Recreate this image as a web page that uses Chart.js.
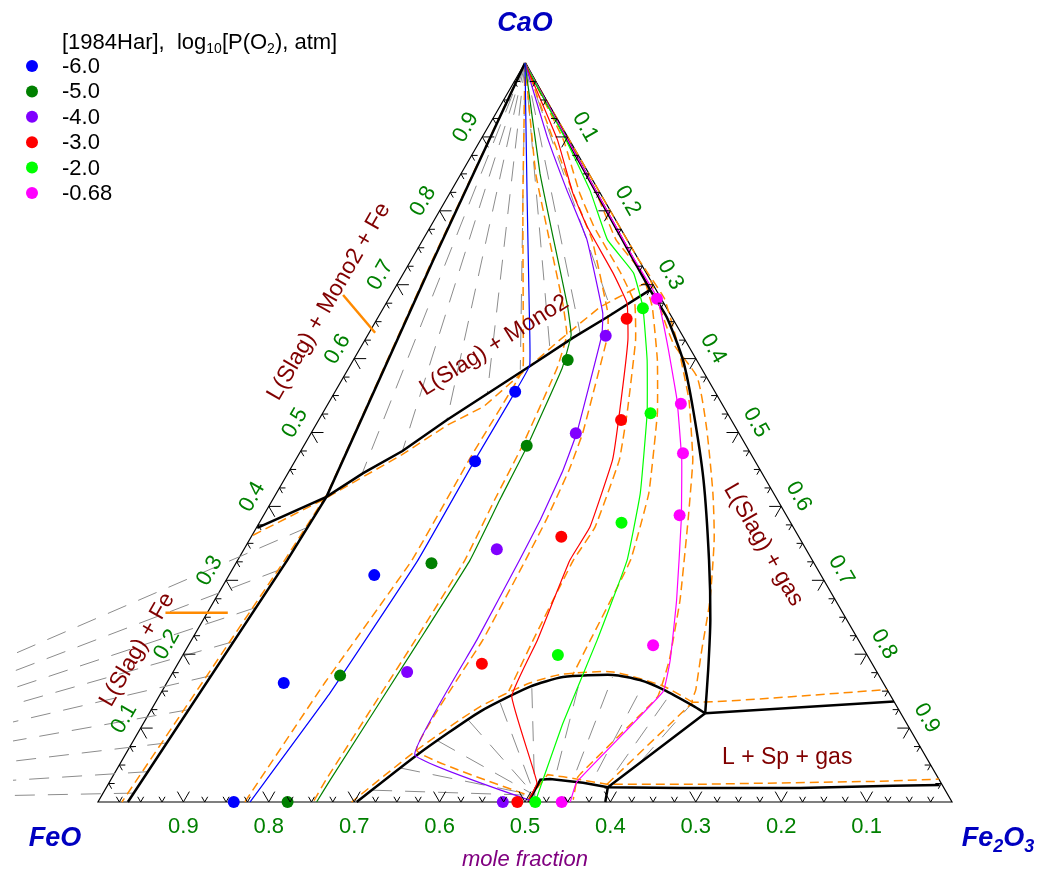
<!DOCTYPE html>
<html>
<head>
<meta charset="utf-8">
<script src="https://cdn.jsdelivr.net/npm/chart.js@4.4.1/dist/chart.umd.min.js"></script>
<style>
  html, body { margin: 0; padding: 0; background: #ffffff; }
  canvas { display: block; }
</style>
</head>
<body>
<canvas id="phase" width="1037" height="871"></canvas>
<script>
// CaO – FeO – Fe2O3 isothermal section.
// Every composition is written as [x(CaO), x(Fe2O3)]; x(FeO) = 1 - x(CaO) - x(Fe2O3).

// ---- experimental points, [1984Har], by log10 p(O2)
const pO2Labels = ['-6.0', '-5.0', '-4.0', '-3.0', '-2.0', '-0.68'];
const pO2Colors = ['#0000ff', '#008000', '#8000ff', '#ff0000', '#00ff00', '#ff00ff'];
const exp_m6   = [[0.555, 0.211], [0.461, 0.211], [0.307, 0.170], [0.161, 0.137], [0.0, 0.159]];
const exp_m5   = [[0.598, 0.251], [0.482, 0.261], [0.323, 0.229], [0.171, 0.198], [0.0, 0.222]];
const exp_m4   = [[0.631, 0.279], [0.499, 0.310], [0.342, 0.296], [0.176, 0.274], [0.0, 0.474]];
const exp_m3   = [[0.654, 0.292], [0.517, 0.354], [0.359, 0.363], [0.187, 0.356], [0.0, 0.491]];
const exp_m2   = [[0.668, 0.304], [0.526, 0.384], [0.378, 0.424], [0.199, 0.439], [0.0, 0.512]];
const exp_m068 = [[0.681, 0.314], [0.539, 0.413], [0.472, 0.449], [0.388, 0.487], [0.212, 0.544], [0.0, 0.543]];

// ---- calculated isobars (solid)
const iso_m6 = [[1, 0], [0.815, 0.095], [0.666, 0.172], [0.591, 0.210], [0.555, 0.211], [0.463, 0.210], [0.327, 0.211], [0.148, 0.198], [0, 0.178]];
const iso_m5 = [[1, 0], [0.851, 0.092], [0.761, 0.153], [0.673, 0.213], [0.632, 0.238], [0.587, 0.250], [0.480, 0.262], [0.409, 0.266], [0.327, 0.272], [0.219, 0.267], [0.030, 0.257], [0, 0.256]];
const iso_m4 = [[1, 0], [0.900, 0.076], [0.828, 0.135], [0.761, 0.192], [0.662, 0.260], [0.632, 0.274], [0.554, 0.296], [0.499, 0.311], [0.449, 0.320], [0.382, 0.327], [0.327, 0.330], [0.219, 0.334], [0.064, 0.339], [0.002, 0.505]];
const iso_m3 = [[1, 0], [0.896, 0.090], [0.824, 0.144], [0.778, 0.184], [0.716, 0.245], [0.675, 0.282], [0.625, 0.308], [0.530, 0.346], [0.463, 0.371], [0.372, 0.390], [0.327, 0.389], [0.219, 0.405], [0.143, 0.413], [0.026, 0.501], [0.001, 0.503]];
const iso_m2 = [[1, 0], [0.896, 0.100], [0.828, 0.162], [0.761, 0.216], [0.716, 0.269], [0.670, 0.303], [0.598, 0.344], [0.526, 0.380], [0.418, 0.426], [0.327, 0.456], [0.219, 0.475], [0.107, 0.491], [0.030, 0.506], [0, 0.512]];
const iso_m068 = [[1, 0], [0.737, 0.258], [0.682, 0.314], [0.621, 0.356], [0.544, 0.406], [0.463, 0.452], [0.382, 0.492], [0.273, 0.541], [0.192, 0.574], [0.149, 0.587], [0.027, 0.547], [0, 0.553]];

// ---- second assessment (orange, dashed)
const alt_m6 = [[1, 0], [0.815, 0.090], [0.632, 0.182], [0.585, 0.205], [0.544, 0.205], [0.466, 0.203], [0.327, 0.204], [0.162, 0.185], [0, 0.172]];
const alt_m5 = [[1, 0], [0.851, 0.087], [0.761, 0.148], [0.673, 0.208], [0.632, 0.233], [0.587, 0.244], [0.480, 0.256], [0.409, 0.260], [0.327, 0.266], [0.219, 0.262], [0.030, 0.252], [0, 0.252]];
const alt_m4 = [[1, 0], [0.900, 0.082], [0.828, 0.141], [0.761, 0.198], [0.662, 0.266], [0.632, 0.281], [0.554, 0.303], [0.499, 0.318], [0.449, 0.327], [0.382, 0.334], [0.327, 0.337], [0.219, 0.341], [0.070, 0.338], [0.008, 0.502]];
const alt_m3 = [[1, 0], [0.896, 0.097], [0.824, 0.152], [0.778, 0.192], [0.716, 0.254], [0.675, 0.291], [0.625, 0.317], [0.530, 0.355], [0.463, 0.379], [0.372, 0.396], [0.327, 0.393], [0.219, 0.400], [0.150, 0.406]];
const alt_m2 = [[1, 0], [0.828, 0.168], [0.761, 0.226], [0.716, 0.279], [0.670, 0.314], [0.598, 0.356], [0.526, 0.392], [0.418, 0.436], [0.327, 0.460], [0.219, 0.467], [0.170, 0.470]];
const alt_m068 = [[1, 0], [0.737, 0.263], [0.682, 0.322], [0.621, 0.368], [0.544, 0.420], [0.463, 0.465], [0.382, 0.500], [0.273, 0.545], [0.192, 0.573], [0.142, 0.584], [0.034, 0.545], [0.003, 0.555]];

// ---- phase boundaries (black)
const bnd_mono2Left = [[1, 0], [0.733, 0.026], [0.413, 0.061], [0.327, 0.058], [0, 0.035]];
const bnd_mono2Low  = [[0.371, 0.001], [0.413, 0.061], [0.445, 0.088], [0.475, 0.119], [0.517, 0.150], [0.590, 0.211], [0.628, 0.242], [0.656, 0.268], [0.693, 0.300]];
const bnd_gas       = [[1, 0], [0.693, 0.300], [0.656, 0.338], [0.598, 0.386], [0.530, 0.432], [0.436, 0.491], [0.327, 0.552], [0.246, 0.594], [0.179, 0.625], [0.120, 0.651]];
const bnd_spTop     = [[0.120, 0.651], [0.136, 0.864]];
const bnd_spLow     = [[0.120, 0.651], [0.020, 0.587], [0.019, 0.672], [0.019, 0.813], [0.022, 0.920], [0.023, 0.974]];
const bnd_spFoot    = [[0.020, 0.587], [0, 0.594]];
const bnd_arc       = [[0.120, 0.651], [0.130, 0.632], [0.152, 0.586], [0.165, 0.552], [0.172, 0.517], [0.169, 0.460], [0.156, 0.428], [0.122, 0.386], [0.064, 0.342], [0, 0.303]];
const bnd_pocket    = [[0.020, 0.587], [0.026, 0.555], [0.031, 0.514], [0.030, 0.503], [0, 0.504]];

// ---- same boundaries, second assessment (orange, dashed)
const altb_mono2Left = [[1, 0], [0.731, 0.025], [0.417, 0.060], [0.327, 0.055], [0, 0.028]];
const altb_mono2Low  = [[0.361, 0.001], [0.409, 0.059], [0.470, 0.121], [0.510, 0.154], [0.535, 0.184], [0.582, 0.207], [0.625, 0.228], [0.670, 0.253], [0.706, 0.294]];
const altb_gas       = [[0.706, 0.294], [0.621, 0.363], [0.575, 0.414], [0.507, 0.459], [0.418, 0.511], [0.355, 0.544], [0.273, 0.580], [0.206, 0.604], [0.152, 0.624], [0.135, 0.629], [0.152, 0.848]];
const altb_arc       = [[0.135, 0.629], [0.157, 0.583], [0.176, 0.515], [0.173, 0.458], [0.161, 0.425], [0.129, 0.383], [0.070, 0.338], [0, 0.297]];
const altb_spLow     = [[0.004, 0.502], [0.037, 0.508], [0.034, 0.528], [0.024, 0.584], [0.024, 0.693], [0.028, 0.902], [0.031, 0.969]];
const altb_spDiag    = [[0.024, 0.584], [0.135, 0.629]];

// ---- tie-lines (grey, dashed)
const CAO_CORNER = [1, 0];
const FE_POINT = [0, -0.5];            // metallic Fe, on the FeO–Fe2O3 join beyond FeO
const tie_mono2 = [[0.445, 0.087], [0.475, 0.119], [0.517, 0.150], [0.554, 0.179], [0.585, 0.202], [0.609, 0.225], [0.635, 0.247], [0.662, 0.271]];
const tie_fe    = [[0.372, 0.060], [0.315, 0.057], [0.263, 0.053], [0.217, 0.050], [0.171, 0.047], [0.125, 0.044], [0.080, 0.041], [0.041, 0.038], [0.012, 0.036]];
const SP_FOCUS  = [0.009, 0.507];
const tie_spL   = [[0.016, 0.313], [0.046, 0.331], [0.083, 0.356], [0.111, 0.378], [0.134, 0.404], [0.154, 0.431]];
const tie_spR   = [
  [[0.043, 0.516], [0.168, 0.481]],
  [[0.043, 0.539], [0.169, 0.518]],
  [[0.041, 0.564], [0.158, 0.559]],
  [[0.043, 0.586], [0.145, 0.597]],
  [[0.054, 0.608], [0.131, 0.628]]
];

// ---- short orange pointers next to labels
const ptr_mono2Fe = [[0.686, -0.056], [0.635, 0.007]];
const ptr_fe      = [[0.256, -0.049], [0.256, 0.024]];

// ---- triangle and its scales
const triangle = [[1, 0], [0, 0], [0, 1], [1, 0]];
const axisLabels = [0.1, 0.2, 0.3, 0.4, 0.5, 0.6, 0.7, 0.8, 0.9];
const MINOR_STEP = 0.025;

// ---- region names
const regionLabels = [
  { text: 'L(Slag) + Mono2 + Fe', at: [0.677, -0.068], rot: -60 },
  { text: 'L(Slag) + Mono2',      at: [0.618, 0.155],  rot: -32 },
  { text: 'L(Slag) + Fe',         at: [0.206, -0.057], rot: -60 },
  { text: 'L(Slag) + gas',        at: [0.348, 0.605],  rot: 60 },
  { text: 'L + Sp + gas',         at: [0.060, 0.777],  rot: 0 }
];

// ternary -> cartesian data space (x along the FeO–Fe2O3 base, y = x(CaO))
const T = ([c, f]) => ({ x: f + c / 2, y: c });

function lineDS(pts, color, width, dash, order, tension) {
  return {
    data: pts.map(T), showLine: true, borderColor: color, borderWidth: width,
    borderDash: dash || [], pointRadius: 0, pointHoverRadius: 0, fill: false,
    tension: tension || 0, order: order
  };
}

const BLACK = '#000000', ORANGE = '#ff8a00', GREY = '#8c8c8c';
const ORANGE_DASH = [9, 5], GREY_DASH = [20, 13];

const datasets = [];
const expSets = [exp_m6, exp_m5, exp_m4, exp_m3, exp_m2, exp_m068];
const isoSets = [iso_m6, iso_m5, iso_m4, iso_m3, iso_m2, iso_m068];
const altSets = [alt_m6, alt_m5, alt_m4, alt_m3, alt_m2, alt_m068];

expSets.forEach((pts, i) => datasets.push({
  label: pO2Labels[i], data: pts.map(T), showLine: false,
  pointRadius: 6, pointHoverRadius: 6, pointBackgroundColor: pO2Colors[i],
  pointBorderColor: pO2Colors[i], pointBorderWidth: 0, order: 0
}));
isoSets.forEach((pts, i) => datasets.push(lineDS(pts, pO2Colors[i], 1.2, null, 1, 0.1)));

[bnd_mono2Left, bnd_mono2Low, bnd_spTop, bnd_spLow, bnd_spFoot, bnd_pocket]
  .forEach(p => datasets.push(lineDS(p, BLACK, 2.5, null, 2, 0)));
[bnd_gas, bnd_arc].forEach(p => datasets.push(lineDS(p, BLACK, 2.5, null, 2, 0.2)));

altSets.forEach(p => datasets.push(lineDS(p, ORANGE, 1.5, ORANGE_DASH, 3, 0.1)));
[altb_mono2Left, altb_mono2Low, altb_spLow, altb_spDiag]
  .forEach(p => datasets.push(lineDS(p, ORANGE, 1.5, ORANGE_DASH, 3, 0)));
[altb_gas, altb_arc].forEach(p => datasets.push(lineDS(p, ORANGE, 1.5, ORANGE_DASH, 3, 0.2)));
[ptr_mono2Fe, ptr_fe].forEach(p => datasets.push(lineDS(p, ORANGE, 2.5, null, 3, 0)));

tie_mono2.forEach(e => datasets.push(lineDS([CAO_CORNER, e], GREY, 1, GREY_DASH, 4, 0)));
tie_fe.forEach(e => datasets.push(lineDS([e, FE_POINT], GREY, 1, GREY_DASH, 4, 0)));
tie_spL.forEach(e => datasets.push(lineDS([e, SP_FOCUS], GREY, 1, GREY_DASH, 4, 0)));
tie_spR.forEach(pair => datasets.push(lineDS(pair, GREY, 1, GREY_DASH, 4, 0)));

datasets.push(lineDS(triangle, BLACK, 1.2, null, 5, 0));

const FONT = '"Liberation Sans", Arial, Helvetica, sans-serif';

// axis ticks, labels, legend and captions
const decorations = {
  id: 'ternaryDecor',
  afterDraw(chart) {
    const ctx = chart.ctx;
    const xs = chart.scales.x, ys = chart.scales.y;
    const px = ([c, f]) => [xs.getPixelForValue(f + c / 2), ys.getPixelForValue(c)];
    const S3 = Math.sqrt(3) / 2;

    ctx.save();
    // ticks
    ctx.strokeStyle = '#000';
    ctx.lineWidth = 1;
    const n = Math.round(1 / MINOR_STEP);
    for (let k = 1; k < n; k++) {
      const v = k * MINOR_STEP;
      const major = k % 4 === 0;
      const L = major ? 12 : 6;
      const arms = [
        [px([0, v]), [[-0.5, -S3], [0.5, -S3]]],          // FeO–Fe2O3 base
        [px([v, 0]), [[1, 0], [0.5, S3]]],                // FeO–CaO side
        [px([v, 1 - v]), [[-1, 0], [-0.5, S3]]]           // CaO–Fe2O3 side
      ];
      arms.forEach(([p, dirs]) => {
        dirs.forEach(d => {
          ctx.beginPath();
          ctx.moveTo(p[0], p[1]);
          ctx.lineTo(p[0] + d[0] * L, p[1] + d[1] * L);
          ctx.stroke();
        });
      });
    }

    // tick labels
    ctx.fillStyle = '#008000';
    ctx.font = '22px ' + FONT;
    ctx.textAlign = 'center';
    ctx.textBaseline = 'middle';
    axisLabels.forEach(v => {
      const txt = v.toFixed(1);
      // base: x(FeO)
      let p = px([0, 1 - v]);
      ctx.fillText(txt, p[0], p[1] + 25);
      // left: x(CaO)
      p = px([v, 0]);
      ctx.save();
      ctx.translate(p[0] - S3 * 19, p[1] - 0.5 * 19);
      ctx.rotate(-Math.PI / 3);
      ctx.fillText(txt, 0, 0);
      ctx.restore();
      // right: x(Fe2O3)
      p = px([1 - v, v]);
      ctx.save();
      ctx.translate(p[0] + S3 * 20, p[1] - 0.5 * 20);
      ctx.rotate(Math.PI / 3);
      ctx.fillText(txt, 0, 0);
      ctx.restore();
    });

    // region names
    ctx.fillStyle = '#800000';
    ctx.font = '23px ' + FONT;
    regionLabels.forEach(r => {
      const p = px(r.at);
      ctx.save();
      ctx.translate(p[0], p[1]);
      ctx.rotate(r.rot * Math.PI / 180);
      ctx.fillText(r.text, 0, 0);
      ctx.restore();
    });

    // corner components
    const drawRuns = (runs, x, y, align) => {
      let total = 0;
      runs.forEach(r => { ctx.font = r.font; total += ctx.measureText(r.t).width; });
      let cx = align === 'center' ? x - total / 2 : x;
      ctx.textAlign = 'left';
      runs.forEach(r => {
        ctx.font = r.font;
        ctx.fillText(r.t, cx, y + (r.dy || 0));
        cx += ctx.measureText(r.t).width;
      });
    };
    ctx.textBaseline = 'alphabetic';
    ctx.fillStyle = '#0000c0';
    const big = 'italic bold 27px ' + FONT, sub = 'italic bold 18px ' + FONT;
    const apex = px([1, 0]), feo = px([0, 0]), fe2o3 = px([0, 1]);
    drawRuns([{ t: 'CaO', font: big }], apex[0], apex[1] - 32, 'center');
    drawRuns([{ t: 'FeO', font: big }], feo[0] - 43, feo[1] + 44, 'center');
    drawRuns([{ t: 'Fe', font: big }, { t: '2', font: sub, dy: 6 }, { t: 'O', font: big }, { t: '3', font: sub, dy: 6 }],
      fe2o3[0] + 46, fe2o3[1] + 44, 'center');

    ctx.fillStyle = '#800080';
    ctx.font = 'italic 22px ' + FONT;
    ctx.textAlign = 'center';
    ctx.fillText('mole fraction', (feo[0] + fe2o3[0]) / 2, feo[1] + 64);

    // legend
    ctx.fillStyle = '#000';
    const lf = '22px ' + FONT, ls = '14px ' + FONT;
    drawRuns([
      { t: '[1984Har],  log', font: lf }, { t: '10', font: ls, dy: 4 },
      { t: '[P(O', font: lf }, { t: '2', font: ls, dy: 4 }, { t: '), atm]', font: lf }
    ], 62, 49, 'left');
    pO2Labels.forEach((lab, i) => {
      const y = 66 + i * 25.4;
      ctx.beginPath();
      ctx.fillStyle = pO2Colors[i];
      ctx.arc(32, y, 6, 0, Math.PI * 2);
      ctx.fill();
      ctx.fillStyle = '#000';
      ctx.font = lf;
      ctx.textAlign = 'left';
      ctx.textBaseline = 'middle';
      ctx.fillText(lab, 62, y + 1);
    });
    ctx.restore();
  }
};

new Chart(document.getElementById('phase'), {
  type: 'scatter',
  data: { datasets },
  options: {
    responsive: false,
    animation: false,
    devicePixelRatio: 1,
    // a narrow left margin so the Fe tie-lines stop just short of the page edge
    layout: { padding: { left: 13, right: 0, top: 0, bottom: 0 }, autoPadding: false },
    events: [],
    plugins: { legend: { display: false }, tooltip: { enabled: false } },
    scales: {
      x: { type: 'linear', display: false, min: -0.0995, max: 1.0995 },
      y: { type: 'linear', display: false, min: -0.0934, max: 1.0853 }
    }
  },
  plugins: [decorations]
});
</script>
</body>
</html>
